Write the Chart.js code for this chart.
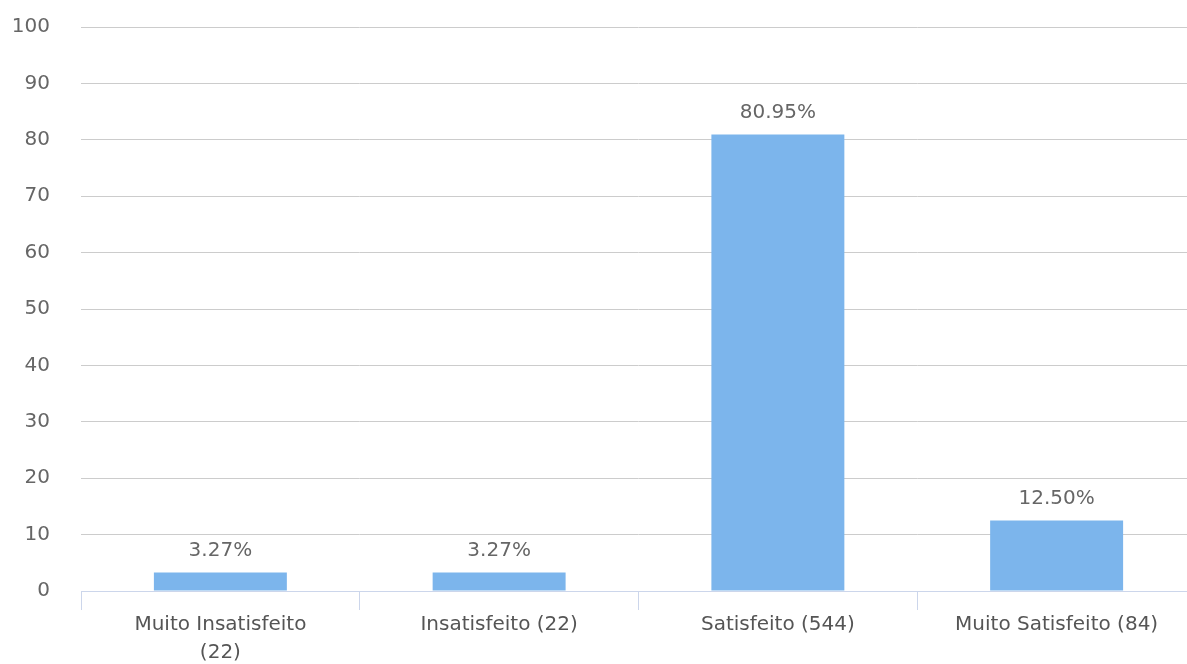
<!DOCTYPE html>
<html>
<head>
<meta charset="utf-8">
<script src="https://cdn.jsdelivr.net/npm/chart.js@4/dist/chart.umd.min.js"></script>
<style>
    html, body { margin: 0; padding: 0; background: #fff; overflow: hidden; }
    #wrap { width: 1196px; height: 680px; position: relative; margin-top: -16px; }
</style>
</head>
<body>
<div id="wrap"><canvas id="satisfaction-chart"></canvas></div>
<script>
const categories = [
    ["Muito Insatisfeito", "(22)"],
    "Insatisfeito (22)",
    "Satisfeito (544)",
    "Muito Satisfeito (84)"
];
const percentages = [3.27, 3.27, 80.95, 12.5];
const yTicks = [0, 10, 20, 30, 40, 50, 60, 70, 80, 90, 100];

const FONT = "'DejaVu Sans', Verdana, sans-serif";

// draws the "80.95%" style labels above each bar
const valueLabels = {
    id: "valueLabels",
    afterDatasetsDraw(chart) {
        const ctx = chart.ctx;
        const meta = chart.getDatasetMeta(0);
        ctx.save();
        ctx.font = "20px " + FONT;
        ctx.fillStyle = "#666666";
        ctx.textAlign = "center";
        ctx.textBaseline = "middle";
        meta.data.forEach((bar, i) => {
            ctx.fillText(percentages[i].toFixed(2) + "%", bar.x, bar.y - 22);
        });
        ctx.restore();
    }
};

const ctx = document.getElementById("satisfaction-chart").getContext("2d");
const chart = new Chart(ctx, {
    type: "bar",
    data: {
        labels: categories,
        datasets: [{
            data: percentages,
            backgroundColor: "#7cb5ec",
            borderWidth: 0,
            categoryPercentage: 1,
            barPercentage: 0.477
        }]
    },
    options: {
        responsive: true,
        maintainAspectRatio: false,
        animation: false,
        layout: { padding: { top: 0, right: 0, left: 0, bottom: 0 } },
        plugins: {
            legend: { display: false },
            tooltip: { enabled: false }
        },
        scales: {
            x: {
                afterFit(scale) { scale.height = 73; },
                border: { display: true, color: "#ccd6eb", width: 1 },
                grid: {
                    offset: true,
                    drawOnChartArea: false,
                    drawTicks: true,
                    tickLength: 19,
                    color: "#ccd6eb"
                },
                ticks: {
                    color: "#555555",
                    padding: 1,
                    maxRotation: 0,
                    font: { family: FONT, size: 20, lineHeight: 1.4 }
                }
            },
            y: {
                min: 0,
                max: 100,
                afterFit(scale) { scale.width = 81; },
                afterBuildTicks(scale) { scale.ticks = yTicks.map(v => ({ value: v })); },
                border: { display: false },
                grid: { color: "#cccccc", drawTicks: false },
                ticks: {
                    color: "#666666",
                    padding: 31,
                    font: { family: FONT, size: 20 }
                }
            }
        }
    },
    plugins: [valueLabels]
});
</script>
</body>
</html>
